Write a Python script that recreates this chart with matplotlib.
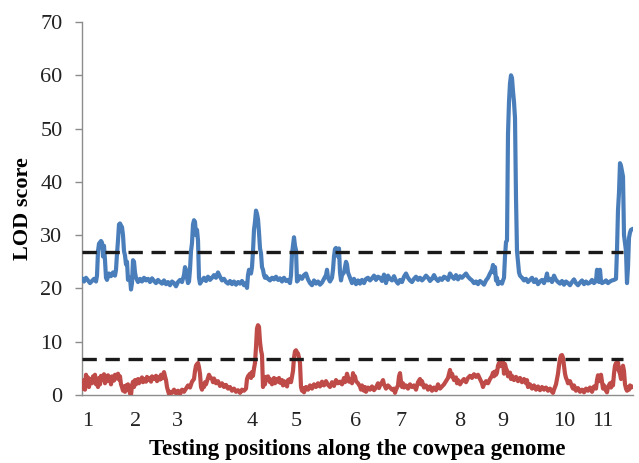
import matplotlib
matplotlib.use("Agg")
import matplotlib.pyplot as plt

# ---------------- data (position units along the genome, LOD values) ----------------
blue_pos = [82, 84, 86, 88, 90, 92, 94, 96, 97, 98, 99, 101, 102, 103, 104, 105, 106, 107, 109, 111,
            113, 115, 116, 117, 118, 119, 120, 121, 122, 123, 124, 125, 126, 127, 128, 130, 131, 132, 133, 134,
            135, 136, 138, 140, 142, 144, 146, 148, 150, 152, 154, 156, 158, 160, 162, 164, 166, 168, 170, 172,
            174, 176, 178, 180, 182, 184, 185, 186, 187, 188, 189, 190, 191, 192, 193, 194, 195, 196, 197, 198,
            199, 200, 202, 204, 206, 208, 210, 212, 214, 216, 218, 220, 222, 224, 226, 228, 230, 232, 234, 236,
            238, 240, 242, 244, 246, 247, 248, 249, 251, 252, 253, 254, 255, 256, 257, 258, 259, 260, 261, 262,
            263, 264, 265, 266, 268, 270, 272, 274, 276, 278, 280, 282, 284, 286, 288, 290, 291, 292, 293, 294,
            295, 296, 297, 298, 300, 302, 304, 306, 308, 310, 312, 314, 316, 318, 320, 322, 324, 326, 327, 328,
            330, 332, 333, 334, 335, 336, 337, 338, 339, 340, 341, 342, 344, 346, 347, 348, 350, 352, 354, 356,
            358, 360, 362, 364, 366, 368, 370, 372, 374, 376, 378, 380, 382, 384, 386, 388, 390, 392, 394, 396,
            398, 400, 402, 404, 406, 408, 410, 412, 414, 416, 418, 420, 422, 424, 426, 428, 430, 432, 434, 436,
            438, 440, 442, 444, 446, 448, 450, 452, 454, 456, 458, 460, 462, 464, 466, 468, 470, 472, 474, 476,
            478, 480, 482, 484, 486, 488, 490, 492, 493, 494, 495, 496, 497, 498, 500, 502, 503, 504, 505, 506,
            507, 508, 509, 510, 511, 512, 513, 514, 515, 516, 517, 518, 519, 520, 522, 524, 526, 528, 530, 532,
            534, 536, 538, 540, 542, 544, 546, 547, 548, 550, 552, 554, 556, 558, 560, 562, 564, 566, 568, 570,
            572, 574, 576, 578, 580, 582, 584, 586, 588, 590, 592, 594, 596, 597, 598, 599, 600, 601, 602, 604,
            606, 608, 610, 612, 614, 616, 617, 618, 619, 620, 621, 622, 623, 624, 625, 626, 627, 628, 629, 630,
            631, 633]
blue_lod = [21.9, 21.3, 22.0, 21.5, 21.0, 21.4, 21.8, 21.3, 22.4, 27.0, 28.4, 28.9, 28.6, 26.0, 28.0, 25.3, 22.0, 21.6, 22.8, 22.3,
            23.0, 22.4, 23.5, 26.5, 29.0, 32.0, 32.2, 31.8, 31.5, 30.0, 27.0, 26.2, 24.5, 25.0, 21.6, 22.0, 19.8, 21.0, 25.3, 25.0,
            23.0, 22.0, 21.2, 21.8, 21.3, 22.0, 21.5, 21.8, 21.2, 21.9, 21.4, 21.0, 21.6, 21.2, 20.9, 21.5, 20.8, 21.2, 20.6, 21.3,
            21.0, 20.4, 21.2, 21.6, 21.2, 22.5, 24.0, 23.5, 22.0, 21.0, 21.3, 23.5, 27.0, 28.5, 32.0, 32.8, 32.5, 30.0, 31.0, 29.0,
            22.0, 20.9, 21.5, 22.0, 21.4, 22.2, 21.6, 22.0, 22.5, 22.0, 23.0, 22.2, 21.5, 21.8, 21.2, 20.9, 21.4, 20.8, 21.3, 20.7,
            21.2, 20.9, 21.4, 20.6, 21.0, 20.1, 22.5, 23.5, 22.8, 24.0, 27.0, 31.0, 32.5, 34.6, 34.0, 33.0, 30.5, 27.5, 26.6, 24.0,
            23.5, 22.5, 22.0, 22.3, 21.8, 21.5, 22.0, 21.7, 22.2, 21.6, 21.9, 21.3, 22.0, 21.4, 21.6, 21.0, 22.5, 26.5, 28.0, 29.6,
            28.0, 27.2, 21.3, 21.5, 22.3, 21.8, 22.5, 22.8, 21.7, 21.0, 20.6, 21.5, 20.9, 21.3, 20.7, 21.1, 21.8, 22.5, 23.5, 22.0,
            21.3, 22.0, 23.5, 26.0, 27.4, 27.6, 27.2, 26.0, 27.5, 23.0, 21.5, 22.5, 23.0, 25.0, 24.5, 23.0, 22.0, 21.0, 21.8, 20.8,
            21.5, 20.9, 21.6, 21.0, 21.8, 22.0, 21.5, 21.9, 22.4, 21.6, 22.2, 22.0, 21.4, 22.6, 21.0, 22.4, 21.8, 21.5, 22.3, 21.4,
            20.9, 21.6, 21.2, 22.2, 22.8, 22.0, 21.5, 21.2, 21.8, 22.2, 21.6, 22.0, 21.5, 21.9, 22.4, 22.0, 21.4, 21.8, 22.5, 21.8,
            21.4, 21.9, 21.6, 22.2, 22.0, 21.6, 22.8, 22.2, 21.8, 22.5, 21.7, 22.3, 22.0, 22.4, 22.8, 22.2, 21.8, 21.5, 21.0, 21.3,
            20.8, 21.4, 21.1, 20.7, 21.5, 22.0, 22.8, 23.5, 24.4, 23.0, 24.0, 21.5, 22.0, 20.8, 21.2, 20.9, 21.5, 22.0, 26.0, 28.7,
            29.0, 49.0, 55.0, 58.5, 60.0, 59.5, 57.0, 55.0, 52.0, 37.0, 27.0, 25.0, 23.0, 22.4, 22.0, 21.5, 21.8, 21.2, 21.6, 22.0,
            21.2, 21.7, 20.8, 21.3, 21.6, 21.0, 22.0, 22.8, 21.5, 21.8, 21.2, 22.4, 21.6, 21.2, 20.9, 21.4, 20.7, 21.3, 21.0, 20.6,
            21.2, 21.7, 21.0, 20.6, 21.1, 21.5, 20.8, 21.3, 20.9, 21.1, 21.6, 21.0, 21.4, 23.5, 22.0, 21.2, 23.5, 21.4, 21.0, 21.2,
            21.5, 21.0, 21.3, 21.5, 21.6, 21.8, 27.2, 34.7, 38.0, 43.5, 43.0, 42.0, 41.0, 30.0, 28.5, 27.0, 21.0, 24.0, 29.5, 30.5,
            31.0, 31.2]

red_pos = [82, 83, 84, 85, 86, 87, 88, 89, 90, 92, 93, 94, 95, 96, 97, 98, 99, 100, 101, 102,
           104, 105, 106, 107, 108, 110, 111, 112, 114, 115, 116, 118, 119, 120, 121, 122, 123, 124, 125, 126,
           127, 128, 129, 130, 131, 132, 133, 134, 135, 136, 138, 139, 140, 142, 143, 144, 146, 147, 148, 150,
           151, 152, 154, 156, 157, 158, 160, 161, 162, 164, 165, 166, 167, 168, 169, 170, 172, 174, 176, 178,
           180, 182, 184, 186, 188, 190, 192, 194, 195, 196, 197, 198, 199, 200, 201, 202, 203, 204, 205, 206,
           208, 209, 210, 212, 213, 214, 216, 218, 220, 222, 224, 226, 228, 230, 232, 234, 236, 238, 240, 242,
           244, 246, 247, 248, 250, 251, 252, 253, 254, 255, 256, 257, 258, 259, 260, 261, 262, 263, 264, 265,
           266, 267, 268, 270, 271, 272, 274, 275, 276, 278, 279, 280, 282, 283, 284, 286, 287, 288, 290, 291,
           292, 293, 294, 295, 296, 297, 298, 299, 300, 301, 302, 303, 304, 306, 308, 310, 312, 314, 316, 318,
           320, 322, 324, 326, 328, 330, 332, 334, 336, 338, 340, 342, 344, 345, 346, 347, 348, 349, 350, 352,
           353, 354, 355, 356, 358, 360, 361, 362, 364, 365, 366, 368, 370, 372, 374, 376, 378, 379, 380, 382,
           383, 384, 386, 388, 390, 392, 394, 395, 396, 398, 399, 400, 401, 402, 403, 404, 406, 408, 410, 412,
           414, 416, 418, 420, 421, 422, 424, 426, 428, 430, 432, 434, 436, 438, 440, 442, 444, 446, 448, 450,
           451, 452, 454, 456, 457, 458, 460, 462, 464, 466, 468, 470, 472, 474, 476, 478, 480, 482, 483, 484,
           486, 488, 490, 492, 493, 494, 495, 496, 497, 498, 499, 500, 501, 502, 503, 504, 505, 506, 507, 508,
           510, 511, 512, 514, 516, 518, 520, 522, 524, 526, 527, 528, 530, 532, 534, 536, 538, 540, 542, 544,
           546, 548, 550, 552, 553, 554, 556, 558, 559, 560, 561, 562, 563, 564, 565, 566, 567, 568, 570, 572,
           573, 574, 576, 578, 580, 582, 584, 586, 588, 590, 592, 594, 596, 597, 598, 599, 600, 601, 602, 603,
           604, 606, 607, 608, 610, 611, 612, 613, 614, 615, 616, 617, 618, 619, 620, 621, 622, 623, 624, 625,
           626, 627, 628, 629, 630, 631, 633]
red_lod = [2.4, 1.2, 2.8, 1.0, 3.8, 2.0, 3.3, 1.5, 3.0, 2.2, 3.5, 2.5, 3.8, 2.0, 3.0, 1.5, 3.2, 2.0, 3.6, 2.8,
           3.9, 2.2, 3.4, 2.6, 3.7, 3.0, 2.0, 3.5, 2.7, 3.8, 3.1, 4.0, 2.9, 3.5, 2.0, 1.5, 0.8, 1.6, 0.6, 1.8,
           1.0, 2.0, 1.2, 0.3, 0.0, 1.8, 2.5, 1.5, 2.8, 2.0, 3.0, 2.2, 2.6, 3.3, 2.4, 3.0, 2.5, 3.4, 2.8, 3.2,
           2.5, 3.5, 3.0, 3.6, 2.6, 3.4, 2.9, 3.8, 3.1, 4.3, 3.5, 2.8, 1.5, 0.8, 0.2, 0.6, 0.4, 1.0, 0.3, 0.8,
           0.2, 1.0, 0.6, 1.2, 1.8, 1.4, 2.5, 3.0, 4.5, 5.5, 5.8, 6.0, 5.2, 4.0, 1.5, 1.0, 2.0, 1.5, 2.4, 2.0,
           3.2, 3.8, 3.4, 3.0, 2.4, 3.1, 2.2, 2.6, 1.7, 2.2, 1.5, 1.9, 1.2, 1.5, 0.8, 1.2, 0.6, 0.9, 0.4, 1.0,
           0.8, 1.2, 3.0, 3.5, 4.0, 3.2, 4.3, 3.6, 5.0, 6.0, 9.0, 12.5, 13.1, 12.8, 10.0, 8.4, 7.5, 1.5, 3.0, 2.0,
           3.4, 2.8, 3.5, 2.4, 2.9, 2.0, 3.2, 2.2, 3.0, 2.5, 3.2, 2.3, 2.8, 1.8, 2.6, 2.2, 1.6, 2.8, 3.0, 2.4,
           3.5, 4.5, 7.0, 8.2, 8.4, 8.0, 7.8, 7.0, 6.0, 1.5, 0.8, 1.3, 0.5, 1.5, 1.0, 1.8, 1.2, 2.0, 1.5, 2.2,
           1.6, 2.5, 1.8, 2.6, 1.9, 1.5, 2.4, 1.7, 2.8, 2.2, 2.5, 2.0, 3.2, 2.4, 3.0, 4.0, 3.3, 2.5, 3.0, 2.2,
           4.1, 3.0, 3.5, 2.6, 2.2, 1.6, 1.0, 1.8, 0.8, 1.5, 0.6, 1.4, 1.0, 1.6, 0.9, 1.4, 2.2, 1.3, 1.8, 2.4,
           2.8, 2.0, 1.2, 1.8, 1.4, 1.0, 1.2, 0.4, 1.0, 1.8, 3.5, 4.1, 2.5, 1.5, 2.2, 1.4, 1.8, 1.2, 2.0, 1.5,
           1.8, 1.0, 2.4, 3.0, 2.0, 2.6, 1.4, 1.8, 1.0, 1.6, 0.8, 1.4, 0.9, 2.0, 1.2, 1.6, 2.0, 2.6, 3.2, 4.7,
           3.5, 4.0, 2.8, 3.3, 2.2, 2.8, 2.0, 2.6, 3.0, 2.4, 3.2, 3.6, 3.2, 3.9, 3.4, 3.8, 3.0, 2.2, 1.5, 2.0,
           2.6, 2.2, 3.0, 3.6, 4.2, 3.5, 4.4, 3.8, 4.2, 5.5, 6.0, 5.4, 6.3, 6.6, 6.2, 4.0, 5.8, 5.0, 4.6, 3.5,
           4.2, 3.0, 3.6, 2.8, 3.4, 2.6, 3.2, 2.4, 3.0, 2.2, 2.8, 1.5, 2.0, 1.2, 1.8, 1.0, 1.6, 0.9, 1.5, 1.0,
           1.4, 0.8, 1.2, 0.6, 0.4, 1.0, 2.0, 4.0, 5.5, 6.8, 7.4, 7.5, 7.0, 5.5, 4.0, 3.2, 2.8, 2.2, 2.6, 1.6,
           1.2, 1.8, 0.8, 1.3, 0.6, 1.0, 0.5, 1.2, 0.8, 1.4, 0.6, 1.6, 1.2, 2.8, 3.7, 2.6, 3.4, 3.8, 2.5, 1.2,
           1.8, 0.8, 0.5, 1.5, 2.2, 1.4, 2.4, 1.8, 4.0, 5.5, 6.0, 5.0, 6.1, 4.5, 4.0, 3.0, 5.0, 5.5, 4.5, 2.0,
           1.2, 0.8, 1.5, 1.0, 1.8, 1.4, 1.6]

threshold_blue = 26.9
threshold_red = 6.7
threshold_span = [82, 623]

chrom_labels = ["1", "2", "3", "4", "5", "6", "7", "8", "9", "10", "11"]
chrom_pos = [88, 136, 177, 252, 296, 356, 401, 460, 503, 564, 603]

y_ticks = [0, 10, 20, 30, 40, 50, 60, 70]

# ---------------- figure ----------------
plt.rcParams['font.family'] = ['Liberation Serif', 'DejaVu Serif']

fig = plt.figure(figsize=(6.39, 4.63), dpi=100)
ax = fig.add_axes([82 / 639, 68 / 463, 551 / 639, 373 / 463])

blue_c = "#4a7ebb"
red_c = "#be4b48"

ax.plot(blue_pos, blue_lod, color=blue_c, lw=3.0, solid_joinstyle="round", solid_capstyle="round", zorder=3)
ax.plot(red_pos, red_lod, color=red_c, lw=3.0, solid_joinstyle="round", solid_capstyle="round", zorder=3)

for thr in (threshold_blue, threshold_red):
    ax.plot(threshold_span, [thr, thr], color="#1a1a1a", lw=2.4,
            linestyle=(0, (4.3, 2.6)), zorder=4)

ax.set_xlim(82, 633)
ax.set_ylim(0, 70)
ax.set_yticks(y_ticks)
ax.set_xticks(chrom_pos)
ax.set_xticklabels(chrom_labels)

for s in ("top", "right"):
    ax.spines[s].set_visible(False)
for s in ("left", "bottom"):
    ax.spines[s].set_color("#8c8c8c")
    ax.spines[s].set_linewidth(1.0)

ax.tick_params(axis="y", direction="out", length=5, width=1.0, color="#8c8c8c",
               labelsize=16, labelcolor="#222222", pad=9)
ax.tick_params(axis="x", length=0, labelsize=16, labelcolor="#222222", pad=12)

ax.set_ylabel("LOD score", fontsize=16, fontweight="bold", labelpad=5)
ax.set_xlabel("Testing positions along the cowpea genome", fontsize=16.5, fontweight="bold", labelpad=6)

fig.savefig("out.png", dpi=100)
